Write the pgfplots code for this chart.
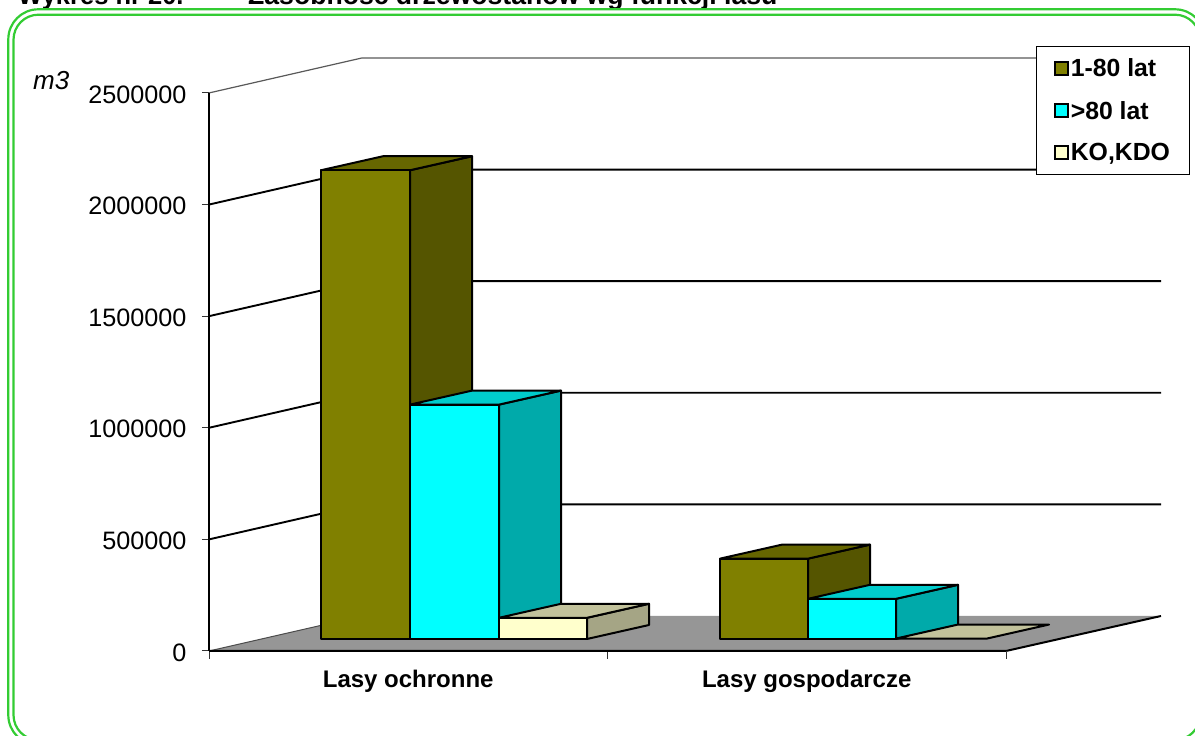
\documentclass[border=0pt]{standalone}
\usepackage{fontspec}
\setmainfont{Liberation Sans}
\usepackage{pgfplots}
\pgfplotsset{compat=1.18}
\definecolor{olv}{HTML}{808000}\definecolor{olvS}{HTML}{555500}\definecolor{olvT}{HTML}{666600}
\definecolor{cy}{HTML}{00FFFF}\definecolor{cyS}{HTML}{00AAAA}\definecolor{cyT}{HTML}{00CCCC}
\definecolor{cr}{HTML}{FFFFCC}\definecolor{crS}{HTML}{A5A585}\definecolor{crT}{HTML}{C2C29B}
\definecolor{flr}{HTML}{969696}\definecolor{frm}{HTML}{33CC33}
\newcommand{\fs}[1]{\fontsize{#1}{#1}\selectfont}
\pgfplotsset{bx/.style={draw=black,line width=2pt,line join=round,fill=#1,forget plot},
 grd/.style={draw=black,line width=1.9pt,forget plot},
 grdt/.style={draw=black!65,line width=1.2pt,forget plot}}
\pgfplotsset{legend image code/.code={\draw[#1,line width=2pt] (0pt,-6.5pt) rectangle (13pt,6.5pt);}}
\begin{document}
\begin{tikzpicture}[x=1pt,y=1pt]
\path[use as bounding box] (0,0) rectangle (1195,736);
\clip (0,0) rectangle (1195,736);
\begin{axis}[at={(0,0)},anchor=south west,scale only axis,width=1195pt,height=736pt,
 hide axis,xmin=0,xmax=1195,ymin=-380800,ymax=2916480,clip=false,
 legend cell align=left,
 legend style={at={(axis cs:1036.3,2710000)},anchor=north west,draw=black,line width=1pt,fill=white,
   font=\fs{24.8}\bfseries,inner xsep=17pt,inner ysep=10pt,row sep=19pt,
   /tikz/every even column/.append style={column sep=6pt}}]
% floor
\addplot[fill=flr,draw=none,forget plot] coordinates {(209,0)(1006,0)(1161,156800)(362,156800)} --cycle;
\addplot[draw=black!70,line width=1pt,forget plot] coordinates {(209,0)(362,156800)};
\addplot[draw=black,line width=2pt,forget plot] coordinates {(209,0)(1006,0)(1161,156800)};
% walls
\addplot[grdt] coordinates {(209,2500000)(362,2656800)(1161,2656800)};
\addplot[grd] coordinates {(209,2000000)(362,2156800)(1161,2156800)};
\addplot[grd] coordinates {(209,1500000)(362,1656800)(1161,1656800)};
\addplot[grd] coordinates {(209,1000000)(362,1156800)(1161,1156800)};
\addplot[grd] coordinates {(209,500000)(362,656800)(1161,656800)};
% Lasy ochronne
\addplot[bx=olvS] coordinates {(410,53760)(472,116480)(472,2216480)(410,2153760)} --cycle;
\addplot[bx=olvT] coordinates {(321,2153760)(410,2153760)(472,2216480)(383,2216480)} --cycle;
\addplot[bx=olv] coordinates {(321,53760)(410,53760)(410,2153760)(321,2153760)} --cycle;
\addplot[bx=cyS] coordinates {(499,53760)(561,116480)(561,1166480)(499,1103760)} --cycle;
\addplot[bx=cyT] coordinates {(410,1103760)(499,1103760)(561,1166480)(472,1166480)} --cycle;
\addplot[bx=cy] coordinates {(410,53760)(499,53760)(499,1103760)(410,1103760)} --cycle;
\addplot[bx=crS] coordinates {(587,53760)(649,116480)(649,211480)(587,148760)} --cycle;
\addplot[bx=crT] coordinates {(499,148760)(587,148760)(649,211480)(561,211480)} --cycle;
\addplot[bx=cr] coordinates {(499,53760)(587,53760)(587,148760)(499,148760)} --cycle;
% Lasy gospodarcze
\addplot[bx=olvS] coordinates {(808,53760)(870,116480)(870,476480)(808,413760)} --cycle;
\addplot[bx=olvT] coordinates {(720,413760)(808,413760)(870,476480)(782,476480)} --cycle;
\addplot[bx=olv] coordinates {(720,53760)(808,53760)(808,413760)(720,413760)} --cycle;
\addplot[bx=cyS] coordinates {(896,53760)(958,116480)(958,296480)(896,233760)} --cycle;
\addplot[bx=cyT] coordinates {(808,233760)(896,233760)(958,296480)(870,296480)} --cycle;
\addplot[bx=cy] coordinates {(808,53760)(896,53760)(896,233760)(808,233760)} --cycle;
\addplot[bx=crT] coordinates {(896,55760)(987,55760)(1049,118480)(958,118480)} --cycle;
% legend
\addlegendimage{fill=olv,draw=black}\addlegendentry{1-80 lat}
\addlegendimage{fill=cy,draw=black}\addlegendentry{>80 lat}
\addlegendimage{fill=cr,draw=black}\addlegendentry{KO,KDO}
\end{axis}
\begin{axis}[at={(209pt,85pt)},anchor=south west,scale only axis,width=797pt,height=558pt,
 xmin=0,xmax=2,ymin=0,ymax=2500000,
 axis x line=bottom,axis y line=left,axis line style={-,line width=2pt,black},
 tick align=outside,major tick length=7pt,minor tick length=8pt,
 ytick={0,500000,1000000,1500000,2000000,2500000},
 xtick={0.5,1.5},xticklabels={Lasy ochronne,Lasy gospodarcze},
 minor xtick={0,1,2},xtick style={draw=none},minor x tick style={draw=black!80,line width=1pt},
 ytick style={draw=black!80,line width=1pt},
 scaled y ticks=false,
 yticklabel style={/pgf/number format/assume math mode=true,/pgf/number format/fixed,/pgf/number format/1000 sep={},font=\fs{25.2},xshift=-12pt,yshift=-1.5pt},
 xticklabel style={font=\fs{24}\bfseries,yshift=-9pt}]
\end{axis}
\node[anchor=base west,font=\fs{26}\itshape,inner sep=0] at (33,646) {m3};
\node[anchor=base west,font=\fs{25.5}\bfseries,inner sep=0] at (18,731.5) {Wykres nr 20.};
\node[anchor=base west,font=\fs{26.6}\bfseries,inner sep=0] at (248,731.5) {Zasobność drzewostanów wg funkcji lasu};
\draw[frm,line width=2.2pt,rounded corners=30] (8.3,-9) rectangle (1205,726.7);
\draw[frm,line width=2.2pt,rounded corners=25] (13.5,-4) rectangle (1200,721.3);
\end{tikzpicture}
\end{document}
